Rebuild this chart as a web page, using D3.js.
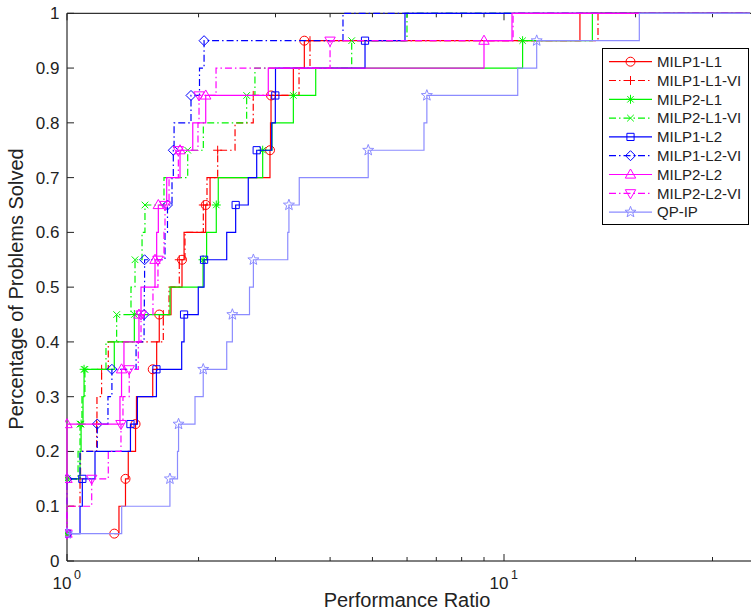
<!DOCTYPE html>
<html><head><meta charset="utf-8">
<script src="https://cdn.jsdelivr.net/npm/d3@7"></script>
<style>body{margin:0;background:#fff}svg{display:block}text{font-family:"Liberation Sans",Arial,sans-serif;fill:#222}</style>
</head><body><svg id="c" width="751" height="614"></svg>
<script>
// ---- data: performance ratio at which each successive problem (1..20) is solved ----
const seriesNames = ["MILP1-L1","MILP1-L1-VI","MILP2-L1","MILP2-L1-VI","MILP1-L2","MILP1-L2-VI","MILP2-L2","MILP2-L2-VI","QP-IP"];
const milp1L1   = [1.283,1.315,1.361,1.381,1.435,1.442,1.571,1.604,1.626,1.73,1.833,1.853,2.077,2.125,2.914,2.922,2.930,3.296,3.492,14.92];
const milp1L1VI = [1.0,1.0,1.071,1.074,1.169,1.171,1.200,1.243,1.661,1.712,1.807,1.862,2.051,2.091,2.212,2.424,2.668,3.396,3.598,16.41];
const milp2L1   = [1.0,1.0,1.0,1.071,1.077,1.088,1.094,1.283,1.426,1.721,2.048,2.087,2.196,2.219,2.804,2.945,3.296,3.708,11.03,15.93];
const milp2L1VI = [1.0,1.0,1.0,1.060,1.071,1.082,1.099,1.228,1.299,1.401,1.431,1.485,1.508,1.667,1.889,2.051,2.577,2.692,4.482,5.998];
const milp1L2   = [1.0,1.071,1.084,1.159,1.397,1.449,1.602,1.830,1.853,1.997,2.059,2.320,2.432,2.599,2.717,2.941,2.997,3.000,4.808,5.935];
const milp1L2VI = [1.0,1.0,1.0,1.071,1.173,1.241,1.267,1.439,1.501,1.503,1.505,1.676,1.698,1.739,1.751,1.758,1.922,2.010,2.059,4.281];
const milp2L2   = [1.0,1.0,1.0,1.0,1.0,1.322,1.333,1.350,1.461,1.477,1.590,1.604,1.618,1.691,1.814,1.940,2.077,2.888,9.000,10.43];
const milp2L2VI = [1.0,1.0,1.139,1.243,1.329,1.343,1.388,1.456,1.477,1.573,1.615,1.667,1.676,1.712,1.798,1.994,2.005,2.193,3.999,10.49];
const qpIP      = [1.0,1.334,1.72,1.79,1.80,1.963,2.05,2.32,2.39,2.616,2.67,3.2,3.22,3.4,4.89,6.56,6.66,10.75,11.88,20.4];
const nProblems = 20;

const yTicks = [0,0.1,0.2,0.3,0.4,0.5,0.6,0.7,0.8,0.9,1];
const yTickLabels = ["0","0.1","0.2","0.3","0.4","0.5","0.6","0.7","0.8","0.9","1"];
const xMajorTicks = [1,10];
const xMajorExp = ["0","1"];
const xMinorTicks = [2,3,4,5,6,7,8,9,20,30];
const xLabel = "Performance Ratio";
const yLabel = "Percentage of Problems Solved";

// ---- styles ----
const allSeries = [milp1L1,milp1L1VI,milp2L1,milp2L1VI,milp1L2,milp1L2VI,milp2L2,milp2L2VI,qpIP];
const colors = ["#ff0000","#ff0000","#00f500","#00f500","#0000ff","#0000ff","#ff00ff","#ff00ff","#8c8cff"];
const dashed = [false,true,false,true,false,true,false,true,false];
const markers = ["circle","plus","asterisk","x","square","diamond","triUp","triDown","star"];
const DASH = "7,3,1.5,3";

const W = 751, H = 614;
const L = 67, R = 750, T = 13.3, B = 561;
const xMax = Math.pow(10, (R - L) / 437);
const x = d3.scaleLog().domain([1, xMax]).range([L, R]);
const y = d3.scaleLinear().domain([0, 1]).range([B, T]);

const svg = d3.select("#c");
svg.append("defs").append("clipPath").attr("id","pc")
  .append("rect").attr("x",L-2).attr("y",T-2).attr("width",R-L+4).attr("height",B-T+4);

function markerPath(type){
  const p = d3.path();
  switch(type){
    case "circle": p.arc(0,0,4.5,0,2*Math.PI); break;
    case "square": p.rect(-3.6,-3.6,7.2,7.2); break;
    case "diamond": p.moveTo(0,-5); p.lineTo(5,0); p.lineTo(0,5); p.lineTo(-5,0); p.closePath(); break;
    case "triUp": p.moveTo(0,-5.5); p.lineTo(5.2,3.6); p.lineTo(-5.2,3.6); p.closePath(); break;
    case "triDown": p.moveTo(0,5.5); p.lineTo(5.2,-3.6); p.lineTo(-5.2,-3.6); p.closePath(); break;
    case "plus": p.moveTo(-4.5,0); p.lineTo(4.5,0); p.moveTo(0,-4.5); p.lineTo(0,4.5); break;
    case "x": p.moveTo(-3.3,-3.3); p.lineTo(3.3,3.3); p.moveTo(-3.3,3.3); p.lineTo(3.3,-3.3); break;
    case "asterisk": p.moveTo(-4.5,0); p.lineTo(4.5,0); p.moveTo(0,-4.5); p.lineTo(0,4.5);
      p.moveTo(-3.2,-3.2); p.lineTo(3.2,3.2); p.moveTo(-3.2,3.2); p.lineTo(3.2,-3.2); break;
    case "star": {
      const ro = 5.8, ri = 2.4;
      for (let k = 0; k < 10; k++){
        const r = k % 2 ? ri : ro, a = -Math.PI/2 + k*Math.PI/5;
        const px = r*Math.cos(a), py = r*Math.sin(a);
        k ? p.lineTo(px,py) : p.moveTo(px,py);
      }
      p.closePath(); break;
    }
  }
  return p.toString();
}

// ---- axes frame and ticks ----
const axG = svg.append("g");
axG.append("line").attr("x1",L).attr("x2",L).attr("y1",T).attr("y2",B).attr("stroke","#000");
axG.append("line").attr("x1",L).attr("x2",W).attr("y1",B).attr("y2",B).attr("stroke","#000");
axG.append("line").attr("x1",L).attr("x2",W).attr("y1",T).attr("y2",T).attr("stroke","#000");

yTicks.forEach((v,i)=>{
  axG.append("line").attr("x1",L).attr("x2",L+7).attr("y1",y(v)).attr("y2",y(v)).attr("stroke","#222");
  axG.append("text").attr("x",L-7.5).attr("y",y(v)+6).attr("text-anchor","end")
    .attr("font-size",17).text(yTickLabels[i]);
});
xMajorTicks.forEach((v,i)=>{
  [[B,B-7],[T,T+7]].forEach(([a,b])=>axG.append("line").attr("x1",x(v)).attr("x2",x(v)).attr("y1",a).attr("y2",b).attr("stroke","#222"));
  axG.append("text").attr("x",x(v)+4.5).attr("y",589).attr("text-anchor","end").attr("font-size",17).text("10");
  axG.append("text").attr("x",x(v)+7).attr("y",579).attr("font-size",12.5).text(xMajorExp[i]);
});
xMinorTicks.forEach(v=>{
  [[B,B-4],[T,T+4]].forEach(([a,b])=>axG.append("line").attr("x1",x(v)).attr("x2",x(v)).attr("y1",a).attr("y2",b).attr("stroke","#222"));
});
svg.append("text").attr("x",407).attr("y",607).attr("text-anchor","middle").attr("font-size",20).text(xLabel);
svg.append("text").attr("transform","translate(23,289) rotate(-90)").attr("text-anchor","middle").attr("font-size",20).text(yLabel);

// ---- series ----
const plotG = svg.append("g").attr("clip-path","url(#pc)");
const line = d3.line().x(d=>x(d[0])).y(d=>y(d[1])).curve(d3.curveStepAfter);
allSeries.forEach((s,si)=>{
  const pts = s.map((t,i)=>[t,(i+1)/nProblems]);
  pts.push([xMax,1]);
  plotG.append("path").attr("d",line(pts)).attr("fill","none")
    .attr("stroke",colors[si]).attr("stroke-width",1.2)
    .attr("stroke-dasharray",dashed[si]?DASH:null);
  const mk = s.map((t,i)=>[t,(i+1)/nProblems]).filter((d,i)=>i%2===0);
  plotG.selectAll(null).data(mk).enter().append("path")
    .attr("d",markerPath(markers[si]))
    .attr("transform",d=>`translate(${x(d[0])},${y(d[1])})`)
    .attr("fill","none").attr("stroke",colors[si]).attr("stroke-width",1);
});

// ---- legend ----
const lg = svg.append("g");
lg.append("rect").attr("x",602.5).attr("y",48.5).attr("width",146).attr("height",176)
  .attr("fill","#fff").attr("stroke","#000");
seriesNames.forEach((n,i)=>{
  const cy = 61.7 + i*18.8;
  lg.append("line").attr("x1",609).attr("x2",652).attr("y1",cy).attr("y2",cy)
    .attr("stroke",colors[i]).attr("stroke-width",1.2).attr("stroke-dasharray",dashed[i]?DASH:null);
  lg.append("path").attr("d",markerPath(markers[i])).attr("transform",`translate(630.5,${cy})`)
    .attr("fill","none").attr("stroke",colors[i]);
  lg.append("text").attr("x",657).attr("y",cy+5.3).attr("font-size",15).text(n);
});
</script></body></html>
